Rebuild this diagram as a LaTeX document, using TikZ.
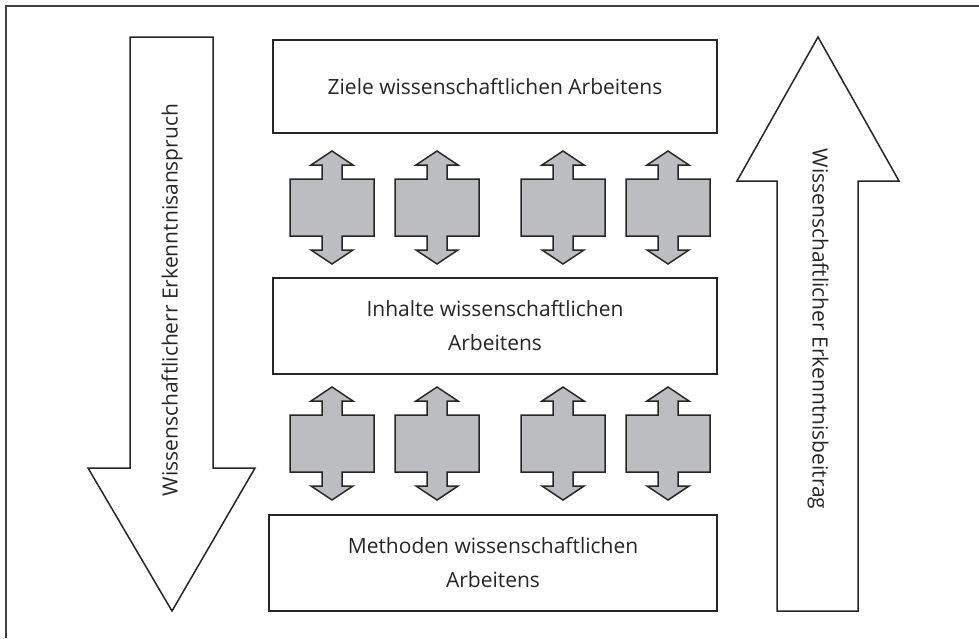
\documentclass[tikz,border=0pt]{standalone}
\usepackage{fontspec}
\setmainfont{Open Sans}
\begin{document}
\begin{tikzpicture}[x=1pt,y=-1pt,
  outline/.style={draw=black!85,line width=1.5pt,line join=miter},
  lbl/.style={font=\fontsize{21}{34}\selectfont,align=center,text=black!85},
  dbl/.pic={\path[outline,fill={rgb,255:red,188;green,189;blue,192}]
    (0,-56.5) -- (21,-42.5) -- (10,-42.5) -- (10,-28.5) -- (42,-28.5) -- (42,28.5)
    -- (10,28.5) -- (10,42.5) -- (21,42.5) -- (0,56.5) -- (-21,42.5) -- (-10,42.5)
    -- (-10,28.5) -- (-42,28.5) -- (-42,-28.5) -- (-10,-28.5) -- (-10,-42.5)
    -- (-21,-42.5) -- cycle;}]
\useasboundingbox (0,0) rectangle (979,638);
% frame (top and left edges)
\draw[black!75,line width=2pt] (6,638) -- (6,6) -- (979,6);
% left down arrow
\draw[outline] (130,37) -- (213,37) -- (213,468) -- (255,468) -- (172,611) -- (88,468) -- (130,468) -- cycle;
\node[lbl,rotate=90] (lefttext) at (172,300) {Wissenschaftlicherr Erkenntnisanspruch};
% right up arrow
\draw[outline] (777,611) -- (858,611) -- (858,181) -- (899,181) -- (818,37) -- (737,181) -- (777,181) -- cycle;
\node[lbl,rotate=-90] (righttext) at (818,329) {Wissenschaftlicher Erkenntnisbeitrag};
% boxes
\node[outline,lbl,minimum width=444pt,minimum height=93pt,inner sep=0pt] (ziele) at (495,86.5) {Ziele wissenschaftlichen Arbeitens};
\node[outline,lbl,minimum width=444pt,minimum height=96pt,inner sep=0pt] (inhalte) at (495,326) {Inhalte wissenschaftlichen\\Arbeitens};
\node[outline,lbl,minimum width=448pt,minimum height=96pt,inner sep=0pt] (methoden) at (493,563) {Methoden wissenschaftlichen\\Arbeitens};
% double arrows
\foreach \cx/\n in {332/a,437/b,563/c,668/d}{
  \pic (up\n) at (\cx,207.5) {dbl};
  \pic (lo\n) at (\cx,443.5) {dbl};
}
\end{tikzpicture}
\end{document}
